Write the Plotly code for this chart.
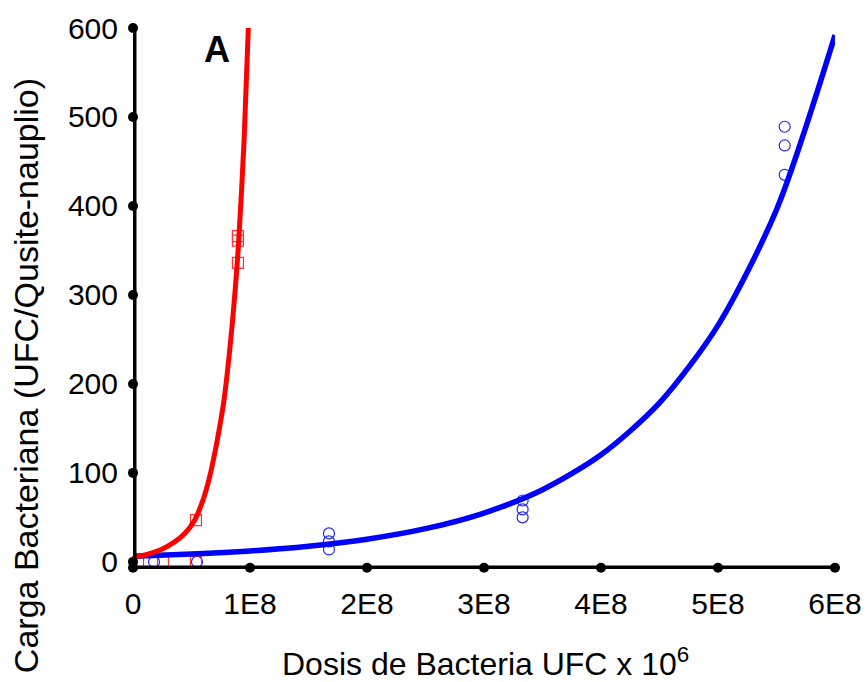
import plotly.graph_objects as go

E8 = 1e8
# observed points (x in units of 1E8 UFC)
red_x = [0.043, 0.256, 0.538, 0.538, 0.897, 0.897, 0.897]
red_y = [0, 0, 0, 47, 366, 361, 336]
blue_x = [0.18, 0.547, 1.675, 1.675, 1.675, 3.33, 3.33, 3.33, 5.57, 5.57, 5.57]
blue_y = [0, 0, 32, 23, 14, 69, 59, 50, 489, 468, 435]

# fitted curves
red_curve_x = [0.0, 0.028, 0.128, 0.242, 0.356, 0.442, 0.527, 0.598, 0.655, 0.704, 0.741, 0.778,
               0.85, 0.9, 0.95, 1.0]
red_curve_y = [5.0, 5.6, 8.7, 13.9, 22.5, 31.9, 46.9, 69.4, 95.6, 125.6, 151.9, 182,
               270, 353, 476, 650]
blue_curve_x = [0.0, 0.5, 1.0, 1.5, 2.0, 2.5, 3.0, 3.5, 4.0, 4.5, 5.0, 5.5, 6.0]
blue_curve_y = [6.4, 8.8, 12.3, 17.6, 25.5, 37.3, 54.9, 81.1, 120.3, 178.7, 265.8, 395.8, 592]

x_ticks = [0, 1, 2, 3, 4, 5, 6]
x_labels = ["0", "1E8", "2E8", "3E8", "4E8", "5E8", "6E8"]
y_ticks = [0, 100, 200, 300, 400, 500, 600]
y_bottom = -8

FONT = "Liberation Sans, Arial, sans-serif"

fig = go.Figure()

fig.add_trace(go.Scatter(
    x=[v * E8 for v in blue_x], y=blue_y, mode="markers",
    marker=dict(symbol="circle-open", size=11, color="#2626ff", line=dict(width=1.2)),
    showlegend=False, cliponaxis=False))
fig.add_trace(go.Scatter(
    x=[v * E8 for v in red_x], y=red_y, mode="markers",
    marker=dict(symbol="square-open", size=11, color="#ff3030", line=dict(width=1.2)),
    showlegend=False, cliponaxis=False))
fig.add_trace(go.Scatter(
    x=[v * E8 for v in blue_curve_x], y=blue_curve_y, mode="lines",
    line=dict(color="#0000ff", width=5.5, shape="spline", smoothing=0.8),
    showlegend=False, cliponaxis=False))
fig.add_trace(go.Scatter(
    x=[v * E8 for v in red_curve_x], y=red_curve_y, mode="lines",
    line=dict(color="#ff0000", width=5, shape="spline", smoothing=0.8),
    showlegend=False, cliponaxis=True))

# axis lines
fig.add_trace(go.Scatter(
    x=[0, 0, x_ticks[-1] * E8], y=[y_ticks[-1], y_bottom, y_bottom], mode="lines",
    line=dict(color="black", width=7), showlegend=False, cliponaxis=False, hoverinfo="skip"))
# tick dots
fig.add_trace(go.Scatter(
    x=[t * E8 for t in x_ticks] + [0] * len(y_ticks),
    y=[y_bottom + 1.5] * len(x_ticks) + y_ticks,
    mode="markers", marker=dict(color="black", size=10, symbol="circle"),
    showlegend=False, cliponaxis=False, hoverinfo="skip"))

fig.update_layout(
    width=867, height=682,
    margin=dict(l=133, r=32, t=28, b=113),
    paper_bgcolor="white", plot_bgcolor="white",
    font=dict(family=FONT, color="black"),
    xaxis=dict(range=[0, 6 * E8], tickvals=[t * E8 for t in x_ticks], ticktext=x_labels,
               showgrid=False, zeroline=False, showline=False, ticks="", automargin=False,
               tickfont=dict(size=30, family=FONT, color="black"), ticklabelstandoff=14),
    yaxis=dict(range=[y_bottom, 600], tickvals=y_ticks, showgrid=False, zeroline=False,
               showline=False, ticks="", automargin=False,
               tickfont=dict(size=30, family=FONT, color="black"), ticklabelstandoff=14),
    annotations=[
        dict(text="Carga Bacteriana (UFC/Qusite-nauplio)", xref="paper", yref="paper",
             x=-0.152, y=0.357, textangle=-90, showarrow=False,
             font=dict(size=34, family=FONT, color="black"), xanchor="center", yanchor="middle"),
        dict(text="Dosis de Bacteria UFC x 10<sup>6</sup>", xref="paper", yref="paper",
             x=0.502, y=-0.172, showarrow=False,
             font=dict(size=32, family=FONT, color="black"), xanchor="center", yanchor="middle"),
        dict(text="<b>A</b>", xref="paper", yref="paper",
             x=(217 - 133) / 702, y=(569 - 49) / 541, showarrow=False,
             font=dict(size=36, family=FONT, color="black"), xanchor="center", yanchor="middle"),
    ],
)

fig.write_html("out.html")
